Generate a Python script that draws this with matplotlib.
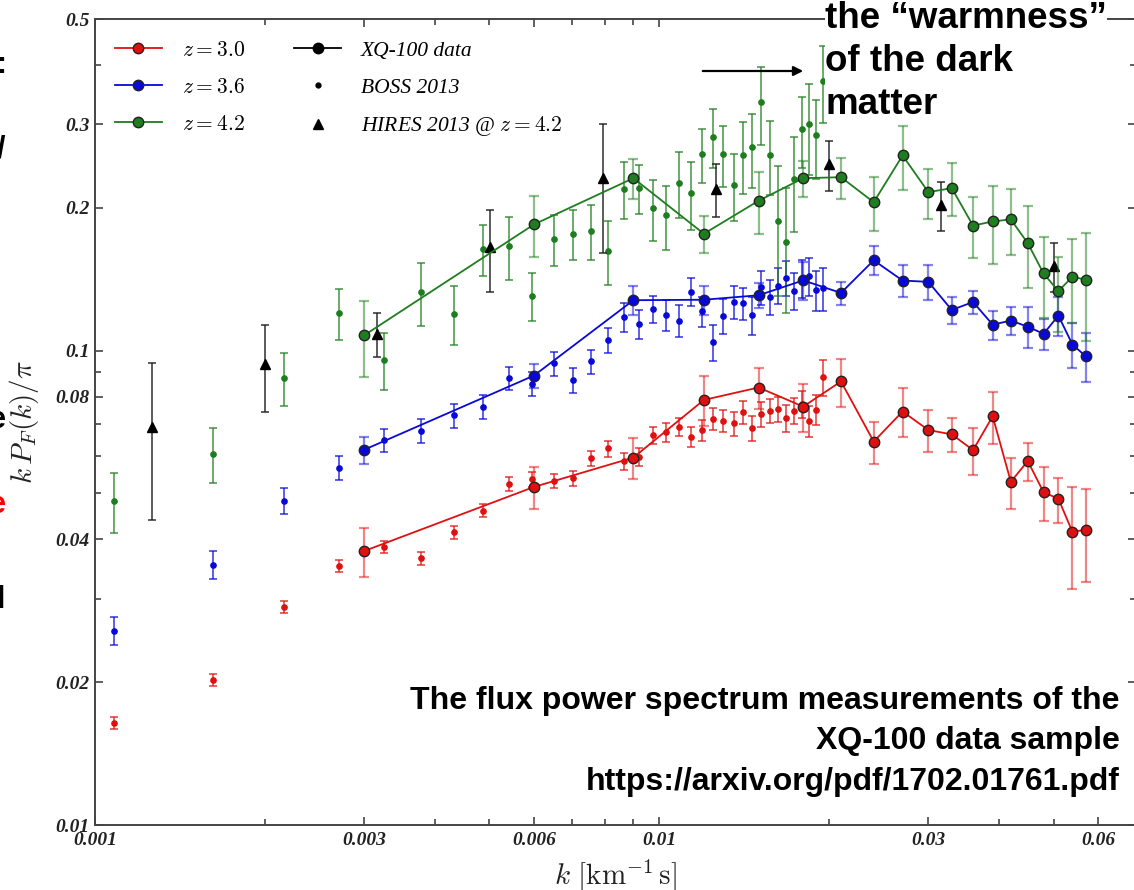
import matplotlib
matplotlib.use('Agg')
import matplotlib.pyplot as plt
import matplotlib.ticker as ticker
from matplotlib.lines import Line2D

plt.rcParams['mathtext.fontset'] = 'cm'
plt.rcParams['font.family'] = ['Liberation Serif', 'DejaVu Serif']

# XQ-100 measurements
k_xq = [0.003, 0.006, 0.009, 0.012, 0.015, 0.018, 0.021, 0.024, 0.027, 0.030,
        0.033, 0.036, 0.039, 0.042, 0.045, 0.048, 0.051, 0.054, 0.057]
xq_z30 = [0.0378, 0.0516, 0.0595, 0.0787, 0.0836, 0.0762, 0.0861, 0.0643, 0.0744, 0.068,
          0.0666, 0.0617, 0.0727, 0.0529, 0.0585, 0.0503, 0.0487, 0.0415, 0.0419]
xq_z30_err = [0.0045, 0.0053, 0.006, 0.0095, 0.0083, 0.0088, 0.01, 0.0065, 0.0088, 0.007,
              0.0054, 0.007, 0.009, 0.0065, 0.0055, 0.0065, 0.0053, 0.0101, 0.0093]
xq_z36 = [0.0618, 0.0886, 0.1277, 0.128, 0.1308, 0.1406, 0.1323, 0.155, 0.1405, 0.1396,
          0.1218, 0.1266, 0.1134, 0.1157, 0.1123, 0.1085, 0.1185, 0.103, 0.0973]
xq_z36_err = [0.004, 0.0053, 0.0088, 0.009, 0.008, 0.013, 0.0075, 0.011, 0.011, 0.012,
              0.008, 0.007, 0.008, 0.008, 0.011, 0.008, 0.011, 0.0113, 0.0115]
xq_z42 = [0.1077, 0.1845, 0.2309, 0.1763, 0.2069, 0.2309, 0.232, 0.2055, 0.2578, 0.2158,
          0.22, 0.1834, 0.1872, 0.189, 0.1685, 0.1454, 0.1334, 0.1432, 0.141]
xq_z42_err = [0.0196, 0.027, 0.022, 0.016, 0.031, 0.02, 0.023, 0.027, 0.04, 0.026,
              0.028, 0.027, 0.035, 0.03, 0.033, 0.028, 0.024, 0.029, 0.036]

# BOSS 2013
k_boss = [0.00108, 0.00162, 0.00216, 0.00271, 0.00325, 0.00379, 0.00433, 0.00487, 0.00542,
          0.00596, 0.0065, 0.00704, 0.00758, 0.00813, 0.00867, 0.00921, 0.00975, 0.01029,
          0.01084, 0.01138, 0.01192, 0.01246, 0.013, 0.01355, 0.01409, 0.01463, 0.01517,
          0.01571, 0.01626, 0.0168, 0.01734, 0.01788, 0.01842, 0.01897, 0.01951]
boss_z30 = [0.0164, 0.0202, 0.0288, 0.0352, 0.0386, 0.0365, 0.0414, 0.046, 0.0524, 0.0536,
            0.0532, 0.0538, 0.0593, 0.0622, 0.0584, 0.0597, 0.0663, 0.0673, 0.069, 0.0658,
            0.0679, 0.0717, 0.071, 0.0702, 0.0741, 0.0686, 0.0736, 0.0747, 0.0753, 0.072,
            0.0747, 0.0772, 0.0711, 0.0751, 0.0879]
boss_z30_err = [0.0005, 0.0006, 0.0008, 0.001, 0.0011, 0.0011, 0.0013, 0.0014, 0.0018, 0.002,
                0.0018, 0.0019, 0.0022, 0.0024, 0.0024, 0.0026, 0.0028, 0.003, 0.003, 0.0032,
                0.0035, 0.0038, 0.0038, 0.004, 0.0042, 0.0042, 0.0045, 0.0045, 0.0045, 0.0048,
                0.0048, 0.005, 0.0055, 0.0055, 0.0075]
boss_z36 = [0.0257, 0.0354, 0.0483, 0.0566, 0.0647, 0.0678, 0.073, 0.0761, 0.0874, 0.0851,
            0.094, 0.0866, 0.0949, 0.1053, 0.1177, 0.1136, 0.1224, 0.119, 0.1157, 0.133,
            0.121, 0.1043, 0.1185, 0.1267, 0.1258, 0.1187, 0.136, 0.1298, 0.1371, 0.1424,
            0.1338, 0.142, 0.1436, 0.134, 0.1354]
boss_z36_err = [0.0018, 0.0024, 0.003, 0.0033, 0.0037, 0.004, 0.0042, 0.0044, 0.005, 0.005,
                0.0055, 0.0052, 0.0056, 0.0065, 0.008, 0.008, 0.008, 0.009, 0.009, 0.009,
                0.009, 0.009, 0.01, 0.01, 0.01, 0.011, 0.011, 0.011, 0.012, 0.012,
                0.012, 0.013, 0.013, 0.013, 0.014]
boss_z42 = [0.0483, 0.0606, 0.0876, 0.1201, 0.0957, 0.1327, 0.1197, 0.1639, 0.166, 0.1306,
            0.172, 0.1765, 0.1791, 0.1623, 0.2193, 0.2197, 0.1994, 0.1927, 0.2259, 0.2147,
            0.2591, 0.2823, 0.2591, 0.2232, 0.2586, 0.268, 0.334, 0.2586, 0.1874, 0.1698,
            0.2295, 0.2926, 0.30, 0.2842, 0.370]
boss_z42_err = [0.007, 0.008, 0.011, 0.015, 0.013, 0.02, 0.017, 0.02, 0.025, 0.015,
                0.021, 0.0215, 0.024, 0.025, 0.03, 0.026, 0.029, 0.03, 0.036, 0.035,
                0.034, 0.04, 0.038, 0.036, 0.045, 0.048, 0.063, 0.046, 0.057, 0.05,
                0.052, 0.05, 0.065, 0.054, 0.068]

# HIRES 2013 @ z = 4.2
k_hires = [0.00126, 0.002, 0.00316, 0.00501, 0.00794, 0.0126, 0.02, 0.0316, 0.0501]
hires = [0.069, 0.0939, 0.1085, 0.1652, 0.2306, 0.2193, 0.2472, 0.2025, 0.1509]
hires_err = [0.025, 0.0195, 0.0117, 0.0325, 0.07, 0.028, 0.03, 0.024, 0.018]

red = '#e01010'
blue = '#0808d8'
green = '#1e7d1e'

fig = plt.figure(figsize=(11.34, 8.90), dpi=100)
ax = fig.add_axes([95 / 1134, 65 / 890, 1041 / 1134, 806 / 890])
ax.set_xscale('log')
ax.set_yscale('log')

# BOSS small dots
for vals, errs, c in [(boss_z30, boss_z30_err, red), (boss_z36, boss_z36_err, blue),
                      (boss_z42, boss_z42_err, green)]:
    ax.errorbar(k_boss, vals, yerr=errs, fmt='none', ecolor=c, elinewidth=1.3,
                capsize=3.2, capthick=1.3, alpha=0.7, zorder=2)
    ax.plot(k_boss, vals, 'o', ms=3.8, color=c, zorder=3)

# HIRES triangles
ax.errorbar(k_hires, hires, yerr=hires_err, fmt='none', ecolor='#222222', elinewidth=1.3,
            capsize=3.2, capthick=1.3, alpha=0.8, zorder=4)
ax.plot(k_hires, hires, '^', ms=7, color='black', zorder=5)

# XQ-100 points with lines
for vals, errs, c in [(xq_z30, xq_z30_err, red), (xq_z36, xq_z36_err, blue),
                      (xq_z42, xq_z42_err, green)]:
    ax.errorbar(k_xq, vals, yerr=errs, fmt='none', ecolor=c, elinewidth=1.6,
                capsize=3.5, capthick=1.6, alpha=0.5, zorder=6)
    ax.plot(k_xq, vals, '-', color=c, lw=1.3, zorder=7)
    ax.plot(k_xq, vals, 'o', ms=7.5, mfc=c, mec='#222222', mew=1.0, zorder=8)

ax.set_xlim(0.001, 0.07)
ax.set_ylim(0.01, 0.5)

# ticks
ax.xaxis.set_major_locator(ticker.FixedLocator([0.001, 0.003, 0.006, 0.01, 0.03, 0.06]))
ax.yaxis.set_major_locator(ticker.FixedLocator([0.01, 0.02, 0.04, 0.08, 0.1, 0.2, 0.3, 0.5]))
ax.xaxis.set_minor_locator(ticker.LogLocator(subs=range(1, 10), numticks=20))
ax.yaxis.set_minor_locator(ticker.LogLocator(subs=range(1, 10), numticks=20))
fmt = ticker.FuncFormatter(lambda v, p: f'{v:g}')
ax.xaxis.set_major_formatter(fmt)
ax.yaxis.set_major_formatter(fmt)
ax.xaxis.set_minor_formatter(ticker.NullFormatter())
ax.yaxis.set_minor_formatter(ticker.NullFormatter())
ax.tick_params(which='both', direction='in', top=True, right=True, color='#444444',
               width=1.2)
ax.tick_params(which='major', length=6)
ax.tick_params(which='minor', length=4)
ax.tick_params(axis='x', pad=5)
ax.tick_params(axis='y', pad=4)
for lab in ax.get_xticklabels() + ax.get_yticklabels():
    lab.set_fontstyle('italic')
    lab.set_fontweight('bold')
    lab.set_fontsize(14)
    lab.set_color('#222222')
for sp in ax.spines.values():
    sp.set_color('#444444')
    sp.set_linewidth(1.4)

ax.set_xlabel(r'$k\ [\mathrm{km}^{-1}\,\mathrm{s}]$', fontsize=21, color='#222222')
ax.set_ylabel(r'$k\,P_F(k)/\pi$', fontsize=21, color='#222222')
ax.xaxis.set_label_coords(0.5, -0.040)
ax.yaxis.set_label_coords(-0.052, 0.5)

# legend
handles = [
    Line2D([], [], color=red, marker='o', ms=7.5, mfc=red, mec='#222222', lw=1.3),
    Line2D([], [], color=blue, marker='o', ms=7.5, mfc=blue, mec='#222222', lw=1.3),
    Line2D([], [], color=green, marker='o', ms=7.5, mfc=green, mec='#222222', lw=1.3),
    Line2D([], [], color='black', marker='o', ms=7.5, lw=1.3),
    Line2D([], [], color='black', marker='o', ms=3.5, lw=0),
    Line2D([], [], color='black', marker='^', ms=7, lw=0),
]
labels = ['$z = 3.0$', '$z = 3.6$', '$z = 4.2$', 'XQ-100 data', 'BOSS 2013',
          'HIRES 2013 @ $z = 4.2$']
ax.legend(handles, labels, ncol=2, loc='upper left', bbox_to_anchor=(0.019, 0.973),
          frameon=False, borderpad=0, borderaxespad=0, handlelength=2.2,
          handletextpad=0.9, columnspacing=2.3, labelspacing=0.78,
          prop={'family': 'Liberation Serif', 'style': 'italic', 'size': 15.5})

# slide annotations
fig.text(825 / 1134, 1 - 1 / 890, 'the \u201cwarmness\u201d\nof the dark\nmatter',
         ha='left', va='top', fontsize=26.5, fontweight='bold', family='Liberation Sans',
         linespacing=1.3, bbox=dict(boxstyle='square,pad=0', fc='white', ec='none'),
         zorder=20)
ax.annotate('', xy=(806 / 1134, 1 - 71 / 890), xytext=(700 / 1134, 1 - 71 / 890),
            xycoords='figure fraction', textcoords='figure fraction',
            arrowprops=dict(arrowstyle='-|>', color='black', lw=1.6, mutation_scale=14))
fig.text(1120 / 1134, 1 - 686 / 890,
         'The flux power spectrum measurements of the\nXQ-100 data sample\n'
         'https://arxiv.org/pdf/1702.01761.pdf',
         ha='right', va='top', multialignment='right', fontsize=23, fontweight='bold',
         family='Liberation Sans', linespacing=1.45)

# clipped slivers of slide text at the left edge
for y, s, c in [(65, ':', 'black'), (150, '/', 'black'), (420, 'e', 'black'),
                (505, 'e', 'red'), (600, 'l', 'black')]:
    fig.text(0.005, 1 - y / 890, s, ha='right', va='center', fontsize=22,
             fontweight='bold', family='Liberation Sans', color=c)

plt.savefig('out.png', dpi=100)
